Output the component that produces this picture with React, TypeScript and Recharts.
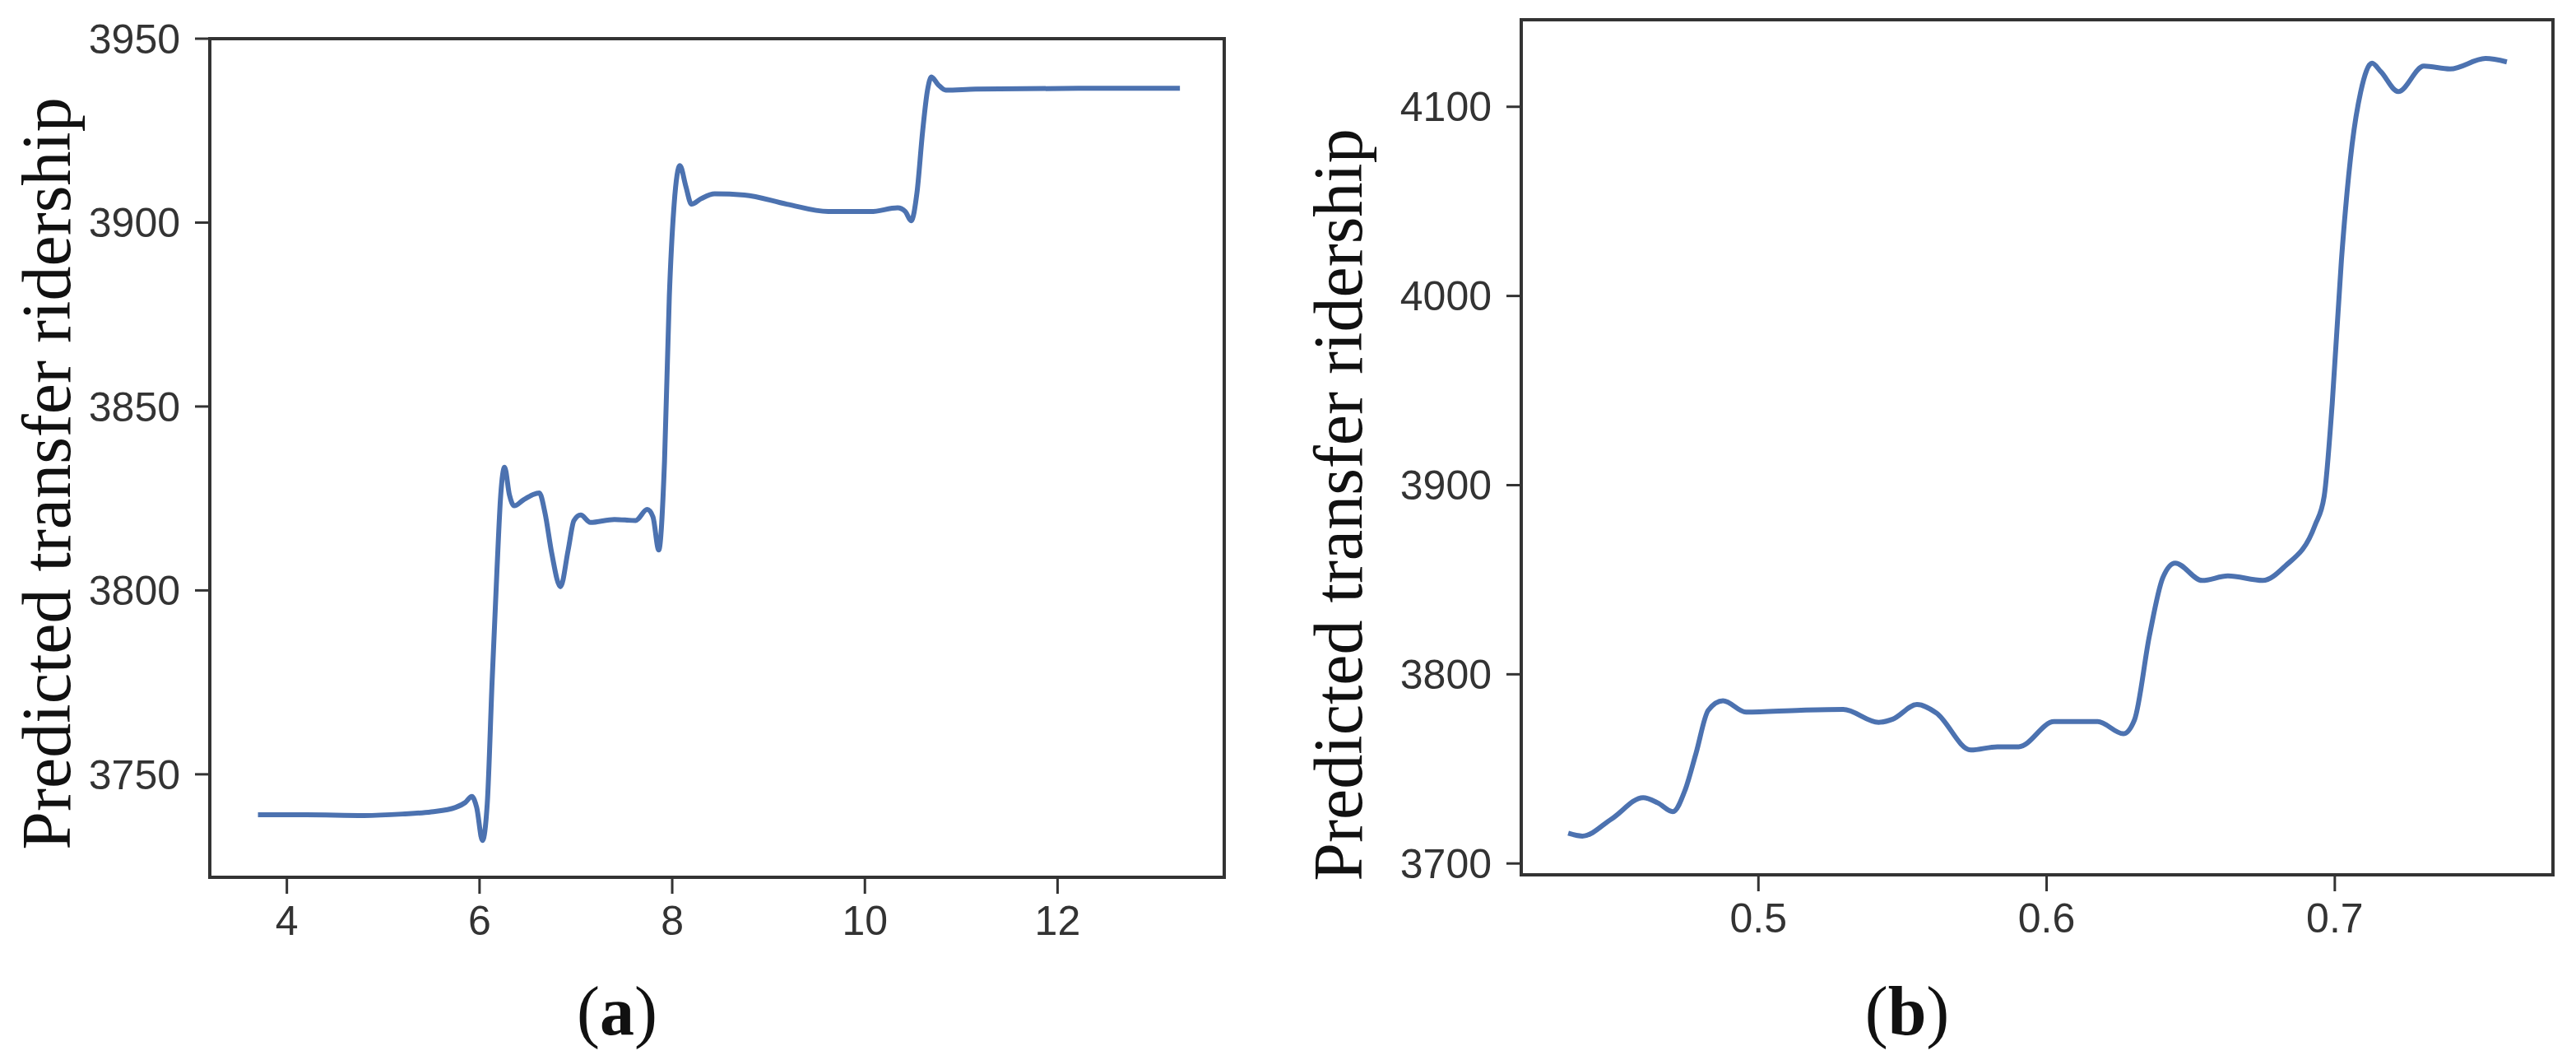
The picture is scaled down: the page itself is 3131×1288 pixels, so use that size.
import React from "react";
import {
  LineChart,
  Line,
  XAxis,
  YAxis,
  ReferenceArea,
} from "recharts";

// panel (a)
const aX = [
  3.7, 4.2, 4.8, 5.2, 5.5, 5.75, 5.85, 5.92, 5.97, 6.03, 6.08, 6.13, 6.18, 6.22,
  6.26, 6.31, 6.36, 6.45, 6.55, 6.62, 6.68, 6.75, 6.84, 6.92, 6.98, 7.05, 7.15,
  7.4, 7.62, 7.74, 7.8, 7.86, 7.92, 7.97, 8.02, 8.08, 8.14, 8.2, 8.3, 8.44,
  8.75, 9.19, 9.62, 10.06, 10.34, 10.42, 10.48, 10.54, 10.6, 10.65, 10.69,
  10.76, 10.84, 11.15, 12.24, 13.27,
];
const aY = [
  3739, 3739, 3738.8, 3739.2, 3739.8, 3741, 3742.3, 3744, 3741, 3732, 3742,
  3775, 3805, 3826, 3833.5, 3826, 3823, 3824.5, 3826, 3826.5, 3821, 3810, 3801,
  3811, 3819, 3820.5, 3818.5, 3819.3, 3819, 3822, 3820, 3811, 3835, 3880, 3905,
  3915.5, 3910, 3905, 3906.5, 3907.8, 3907.5, 3905, 3903, 3903, 3904, 3903,
  3900.5, 3908, 3925, 3936, 3939.6, 3937.5, 3936, 3936.3, 3936.5, 3936.5,
];
const aXTicks = [4, 6, 8, 10, 12];
const aYTicks = [3750, 3800, 3850, 3900, 3950];

// panel (b)
const bX = [
  0.434, 0.4389, 0.4491, 0.46, 0.4651, 0.4703, 0.4746, 0.4783, 0.4826, 0.4877,
  0.4957, 0.5148, 0.5294, 0.5417, 0.5466, 0.555, 0.5617, 0.5737, 0.5829,
  0.5903, 0.6026, 0.6177, 0.6266, 0.6305, 0.6357, 0.6403, 0.6446, 0.654,
  0.6629, 0.675, 0.6826, 0.6931, 0.6963, 0.6991, 0.7023, 0.706, 0.709, 0.7129,
  0.716, 0.722, 0.7309, 0.74, 0.7523, 0.7597,
];
const bY = [
  3716, 3714.5, 3723.6, 3734.8, 3732, 3727.4, 3739, 3758, 3781, 3786, 3780,
  3781, 3781.4, 3774.6, 3776.3, 3784, 3779.6, 3760, 3761.7, 3761.7, 3775, 3775,
  3768.6, 3776, 3820.6, 3851, 3858.8, 3849.6, 3852, 3849.6, 3857, 3878.7, 3894,
  3943, 4019, 4080, 4108, 4123, 4118.5, 4108, 4121.5, 4120, 4125.5, 4123.7,
];
const bXTicks = [0.5, 0.6, 0.7];
const bYTicks = [3700, 3800, 3900, 4000, 4100];

const yLabel = "Predicted transfer ridership";

const tickStyle = {
  fontFamily: "'Liberation Sans', Arial, sans-serif",
  fontSize: 50,
  fill: "#333",
};

function Panel({ xs, ys, xDomain, yDomain, xTicks, yTicks, left, width, margin, labelDx, labelDy }) {
  const data = xs.map((x, i) => ({ x, y: ys[i] }));
  return (
    <div style={{ position: "absolute", left, top: 0 }}>
      <LineChart width={width} height={1288} data={data} margin={margin}>
        <XAxis
          dataKey="x"
          type="number"
          domain={xDomain}
          ticks={xTicks}
          allowDataOverflow
          axisLine={false}
          tickSize={20}
          tickMargin={14}
          tickLine={{ stroke: "#333", strokeWidth: 3 }}
          tick={tickStyle}
          height={60}
        />
        <YAxis
          type="number"
          domain={yDomain}
          ticks={yTicks}
          allowDataOverflow
          axisLine={false}
          tickSize={18}
          tickMargin={18}
          tickLine={{ stroke: "#333", strokeWidth: 3 }}
          tick={tickStyle}
          width={100}
          label={{
            value: yLabel,
            angle: -90,
            position: "center",
            dx: labelDx,
            dy: labelDy,
            style: {
              fontFamily: "'Liberation Serif', 'Times New Roman', serif",
              fontSize: 84,
              fill: "#111",
            },
          }}
        />
        <ReferenceArea
          x1={xDomain[0]}
          x2={xDomain[1]}
          y1={yDomain[0]}
          y2={yDomain[1]}
          fill="none"
          stroke="#333"
          strokeWidth={4}
        />
        <Line
          dataKey="y"
          type="monotone"
          stroke="#4c72b0"
          strokeWidth={6}
          dot={false}
          isAnimationActive={false}
        />
      </LineChart>
    </div>
  );
}

const capStyle = {
  position: "absolute" as const,
  top: 1180,
  fontFamily: "'Liberation Serif', 'Times New Roman', serif",
  fontSize: 84,
  color: "#111",
  transform: "translateX(-50%)",
  whiteSpace: "nowrap" as const,
};

export default function App() {
  return (
    <div style={{ position: "relative", width: 3131, height: 1288, background: "#fff" }}>
      <style>{"body{margin:0}"}</style>
      <Panel
        xs={aX}
        ys={aY}
        xDomain={[3.2, 13.73]}
        yDomain={[3722, 3950]}
        xTicks={aXTicks}
        yTicks={aYTicks}
        left={0}
        width={1560}
        margin={{ top: 47, right: 72, bottom: 162, left: 155 }}
        labelDx={-150}
        labelDy={19}
      />
      <Panel
        xs={bX}
        ys={bY}
        xDomain={[0.4177, 0.7757]}
        yDomain={[3694, 4146]}
        xTicks={bXTicks}
        yTicks={bYTicks}
        left={1560}
        width={1571}
        margin={{ top: 24, right: 28, bottom: 165, left: 189 }}
        labelDx={-174}
        labelDy={70}
      />
      <div style={{ ...capStyle, left: 750 }}>
        (<b>a</b>)
      </div>
      <div style={{ ...capStyle, left: 2318 }}>
        (<b>b</b>)
      </div>
    </div>
  );
}
